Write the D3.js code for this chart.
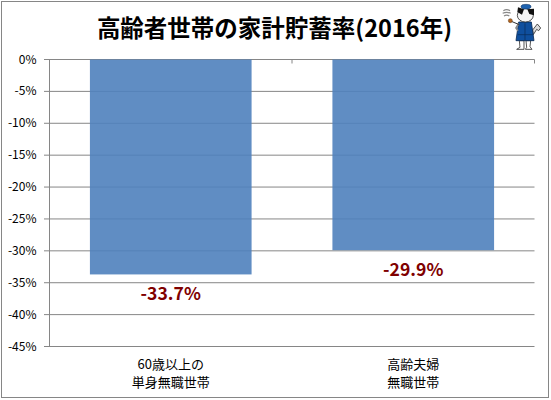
<!DOCTYPE html>
<html>
<head>
<meta charset="utf-8">
<script src="https://cdn.jsdelivr.net/npm/d3@7"></script>
<style>
html, body { margin: 0; padding: 0; background: #fff; }
svg { display: block; }
text { font-family: "Noto Sans CJK JP", "Noto Sans", sans-serif; }
</style>
</head>
<body>
<svg id="chart"></svg>
<script>
// values
const categories = [["60歳以上の", "単身無職世帯"], ["高齢夫婦", "無職世帯"]];
const savingsRate = [-33.7, -29.9];
const tickValues = [0, -5, -10, -15, -20, -25, -30, -35, -40, -45];
const titleText = "高齢者世帯の家計貯蓄率(2016年)";

const width = 551, height = 400;
const svg = d3.select("#chart").attr("width", width).attr("height", height);

// outer frame
svg.append("rect")
    .attr("x", 1.5).attr("y", 1.5)
    .attr("width", 547).attr("height", 396)
    .attr("fill", "#fff")
    .attr("stroke", "#868686")
    .attr("stroke-width", 1);

const x = d3.scaleBand()
    .domain(d3.range(categories.length))
    .range([49.5, 534.5])
    .paddingInner(1 / 3)
    .paddingOuter(1 / 6);

const y = d3.scaleLinear().domain([0, -45]).range([59.5, 346.5]);

// grid lines
svg.append("g").selectAll("line")
    .data(tickValues)
    .enter().append("line")
    .attr("x1", 44)
    .attr("x2", 534.5)
    .attr("y1", d => y(d))
    .attr("y2", d => y(d))
    .attr("stroke", "#868686");

// y axis line and right end tick of the category axis
svg.append("line")
    .attr("x1", 49.5).attr("x2", 49.5)
    .attr("y1", y(0)).attr("y2", y(-45))
    .attr("stroke", "#868686");
svg.append("line")
    .attr("x1", 534.5).attr("x2", 534.5)
    .attr("y1", y(0)).attr("y2", y(0) + 4)
    .attr("stroke", "#868686");
svg.append("line")
    .attr("x1", 292).attr("x2", 292)
    .attr("y1", y(0)).attr("y2", y(0) + 4)
    .attr("stroke", "#868686");

// y tick labels
svg.append("g").selectAll("text")
    .data(tickValues)
    .enter().append("text")
    .attr("x", 36.5)
    .attr("y", d => y(d) + 4)
    .attr("text-anchor", "end")
    .attr("font-size", 12)
    .attr("fill", "#000")
    .text(d => d + "%");

// bars
svg.append("g").selectAll("rect")
    .data(savingsRate)
    .enter().append("rect")
    .attr("x", (d, i) => x(i))
    .attr("y", y(0))
    .attr("width", x.bandwidth())
    .attr("height", d => y(d) - y(0))
    .attr("fill", "#4f81bd")
    .attr("fill-opacity", 0.9);

// value labels
svg.append("g").selectAll("text")
    .data(savingsRate)
    .enter().append("text")
    .attr("x", (d, i) => x(i) + x.bandwidth() / 2)
    .attr("y", d => y(d) + 25.5)
    .attr("text-anchor", "middle")
    .attr("font-size", 17.6)
    .attr("font-weight", "bold")
    .attr("fill", "#7f0000")
    .text(d => d.toFixed(1) + "%");

// category labels
const catLabel = svg.append("g").selectAll("text")
    .data(categories)
    .enter().append("text")
    .attr("text-anchor", "middle")
    .attr("font-size", 13)
    .attr("fill", "#000");
catLabel.selectAll("tspan")
    .data((d, i) => d.map(s => ({ s, i })))
    .enter().append("tspan")
    .attr("x", d => x(d.i) + x.bandwidth() / 2)
    .attr("y", (d, j) => 368.5 + j * 18)
    .text(d => d.s);

// title
svg.append("text")
    .attr("x", 274.5)
    .attr("y", 36.5)
    .attr("text-anchor", "middle")
    .attr("font-size", 23.5)
    .attr("font-weight", "bold")
    .attr("fill", "#000")
    .text(titleText);

// small mascot in the top right corner, drawn at 3x and scaled down
const cat = svg.append("g").attr("transform", "translate(498,0) scale(0.3333)");
const outline = "#333";
// smoke
cat.append("path")
    .attr("d", "M16,32 q10,-6 20,0 M14,40 q12,-6 24,0 M18,48 q8,-5 16,0")
    .attr("fill", "none").attr("stroke", "#888").attr("stroke-width", 3.5);
// tail
cat.append("path")
    .attr("d", "M104,90 L118,72 L128,84 L122,92 L116,88 L106,104 Z")
    .attr("fill", "#ddd").attr("stroke", outline).attr("stroke-width", 2.5);
// legs and feet
cat.append("path")
    .attr("d", "M64,122 L66,142 L56,148 L78,148 L78,122 Z M84,122 L86,142 L82,148 L102,148 L96,140 L98,122 Z")
    .attr("fill", "#fff").attr("stroke", outline).attr("stroke-width", 2.5);
// vest
cat.append("path")
    .attr("d", "M62,66 L100,66 L108,122 L54,122 Z")
    .attr("fill", "#0f4f9e").attr("stroke", "#0a2a55").attr("stroke-width", 2.5);
cat.append("path")
    .attr("d", "M81,70 V122 M60,104 H104")
    .attr("stroke", "#0a2a55").attr("stroke-width", 2);
// head
cat.append("ellipse")
    .attr("cx", 82).attr("cy", 46).attr("rx", 24).attr("ry", 20)
    .attr("fill", "#f6f6f6").attr("stroke", outline).attr("stroke-width", 2.5);
// black patches
cat.append("path")
    .attr("d", "M58,36 L60,22 L78,28 L72,44 Z M88,28 L108,26 L108,46 L94,42 Z")
    .attr("fill", "#111");
// cap
cat.append("ellipse")
    .attr("cx", 84).attr("cy", 20).attr("rx", 15).attr("ry", 7)
    .attr("fill", "#1d62b0").attr("stroke", "#0a2a55").attr("stroke-width", 1.5);
// arm and pipe
cat.append("path")
    .attr("d", "M62,70 L54,84 L60,92")
    .attr("fill", "none").attr("stroke", "#888").attr("stroke-width", 5);
cat.append("path")
    .attr("d", "M40,64 L64,74")
    .attr("stroke", "#333").attr("stroke-width", 3);
cat.append("circle")
    .attr("cx", 37).attr("cy", 62).attr("r", 6)
    .attr("fill", "#b5651d").attr("stroke", "#5a3210").attr("stroke-width", 1.5);
</script>
</body>
</html>
